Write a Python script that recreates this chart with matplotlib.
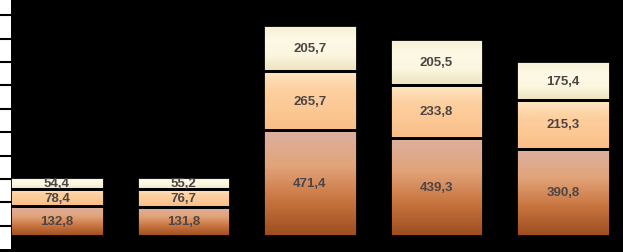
import numpy as np
import matplotlib
matplotlib.use("Agg")
import matplotlib.pyplot as plt
from matplotlib.colors import LinearSegmentedColormap

# values per column, bottom to top
bottom_vals = [132.8, 131.8, 471.4, 439.3, 390.8]
middle_vals = [78.4, 76.7, 265.7, 233.8, 215.3]
top_vals = [54.4, 55.2, 205.7, 205.5, 175.4]

# vertical gradients (index 0 = bottom of segment, 1 = top)
cmap_bottom = LinearSegmentedColormap.from_list("b", ["#9c4d1f", "#c8743f", "#e2a47a", "#dcb0a0"])
cmap_middle = LinearSegmentedColormap.from_list("m", ["#f8bd88", "#fcc894", "#fdd0a0", "#ffe6c4"])
cmap_top = LinearSegmentedColormap.from_list("t", ["#ece3bf", "#fbf6de", "#fdf9e6", "#f6efd2"])

fig = plt.figure(figsize=(6.23, 2.53), dpi=100, facecolor="black")
ax = fig.add_axes([0, 0, 1, 1])
ax.set_facecolor("black")

x = np.arange(len(bottom_vals))
w = 0.74
grad = np.linspace(0, 1, 64).reshape(-1, 1)

def draw_layer(vals, base, cmap):
    bars = ax.bar(x, vals, w, bottom=base, facecolor="none", edgecolor="black", linewidth=2, zorder=3)
    for rect, v in zip(bars, vals):
        x0, y0 = rect.get_x(), rect.get_y()
        im = ax.imshow(grad, cmap=cmap, origin="lower", aspect="auto",
                       extent=(x0, x0 + rect.get_width(), y0, y0 + rect.get_height()),
                       zorder=2, interpolation="bilinear")
        im.set_clip_path(rect)
        ax.text(x0 + rect.get_width() / 2, y0 + rect.get_height() / 2, f"{v:.1f}".replace(".", ","),
                ha="center", va="center", fontsize=9.5, fontweight="bold",
                color="#4d4545", family="Liberation Sans", zorder=4)
    return bars

base1 = np.array(bottom_vals)
base2 = base1 + np.array(middle_vals)
draw_layer(bottom_vals, 0, cmap_bottom)
draw_layer(middle_vals, base1, cmap_middle)
draw_layer(top_vals, base2, cmap_top)

ax.set_xlim(-0.45, 4.474)
ax.set_ylim(-71, 1058)
ax.set_xticks([])
ax.set_yticks([])
for s in ax.spines.values():
    s.set_visible(False)

# white strip with tick lines on the left edge
strip = fig.add_axes([0, 3 / 253, 11 / 623, 250 / 253])
strip.set_facecolor("white")
strip.set_xlim(0, 1)
strip.set_ylim(0, 10.7)
for k in range(1, 11):
    strip.axhline(k, color="black", linewidth=1.5)
strip.set_xticks([])
strip.set_yticks([])
for s in strip.spines.values():
    s.set_visible(False)

fig.savefig("out.png", dpi=100, facecolor="black")
